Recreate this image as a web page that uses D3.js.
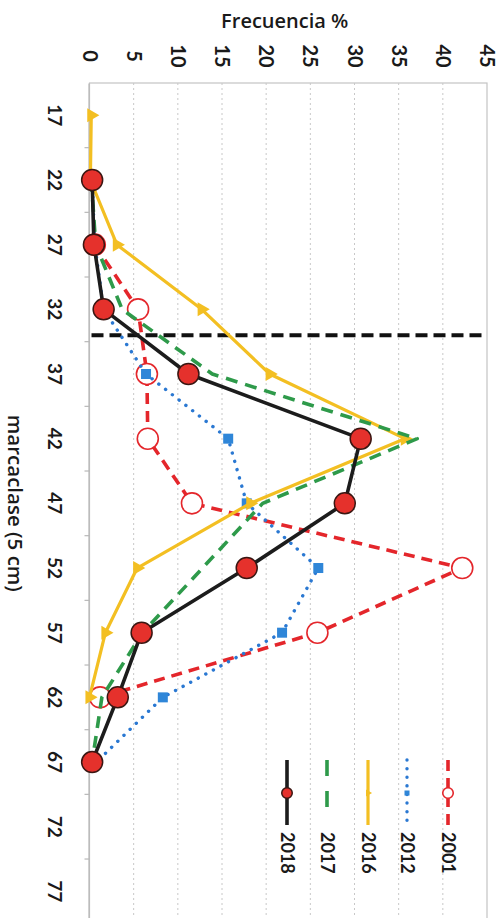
<!DOCTYPE html>
<html>
<head>
<meta charset="utf-8">
<script src="https://cdn.jsdelivr.net/npm/d3@7"></script>
<style>
  html, body { margin: 0; padding: 0; background: #fff; }
  svg { display: block; }
</style>
</head>
<body>
<svg id="chart" width="499" height="918"></svg>
<script>
// Marca de clase (cm) and frequency (%) per year
const categorias = [17, 22, 27, 32, 37, 42, 47, 52, 57, 62, 67, 72, 77];
const serie2001 = [null, null, 0.6, 5.5, 6.5, 6.6, 11.6, 42.2, 25.8, 1.2, null, null, null];
const serie2012 = [null, 0.3, 0.6, 1.6, 6.4, 15.7, 17.8, 25.9, 21.8, 8.3, 0.8, null, null];
const serie2016 = [0.2, 0.1, 3.1, 12.7, 20.4, 35.7, 18.2, 5.4, 1.8, 0, null, null, null];
const serie2017 = [null, 0.2, 0.7, 3.7, 13.9, 37.1, 19.6, 12.8, 6.0, 1.4, 0.3, null, null];
const serie2018 = [null, 0.3, 0.5, 1.6, 11.2, 30.7, 28.9, 17.8, 5.9, 3.2, 0.3, null, null];
const ticksFrecuencia = [0, 5, 10, 15, 20, 25, 30, 35, 40, 45];
const tallaMinima = 34; // reference length marked with the dashed line

const series = [
  { nombre: "2001", valores: serie2001, color: "#e4262b", ancho: 3.6, dash: "11,7", cap: "butt", marca: "circuloAbierto" },
  { nombre: "2012", valores: serie2012, color: "#2a78d2", ancho: 3.4, dash: "0.1,8.5", cap: "round", marca: "cuadrado" },
  { nombre: "2016", valores: serie2016, color: "#f3bf22", ancho: 3.2, dash: null, cap: "butt", marca: "triangulo" },
  { nombre: "2017", valores: serie2017, color: "#2e9a4a", ancho: 3.6, dash: "12,8", cap: "butt", marca: null },
  { nombre: "2018", valores: serie2018, color: "#1c1c1c", ancho: 3.6, dash: null, cap: "butt", marca: "circuloRelleno" }
];

const svg = d3.select("#chart");
// The whole chart is laid out in an ordinary frame and turned a quarter turn clockwise
const g = svg.append("g").attr("transform", "translate(499,0) rotate(90)");

const x = d3.scaleBand().domain(categorias).range([83, 923.7]).padding(0);
const y = d3.scaleLinear().domain([0, 45]).range([409.5, 12]);
const cx = c => x(c) + x.bandwidth() / 2;

const numFont = "Lato, 'Open Sans', sans-serif";
const titleFont = "'Open Sans', Lato, sans-serif";

// Plot frame
g.append("rect")
  .attr("x", x.range()[0]).attr("y", y(45))
  .attr("width", x.range()[1] - x.range()[0]).attr("height", y(0) - y(45))
  .attr("fill", "none").attr("stroke", "#c4c4c4").attr("stroke-width", 1.2);

// Gridlines
g.append("g").selectAll("line")
  .data(ticksFrecuencia.filter(t => t > 0 && t < 45))
  .join("line")
  .attr("x1", x.range()[0]).attr("x2", x.range()[1])
  .attr("y1", d => y(d)).attr("y2", d => y(d))
  .attr("stroke", "#c8c8c8").attr("stroke-width", 1)
  .attr("stroke-dasharray", "2,3");

// Frequency axis labels
const ejeY = g.append("g")
  .attr("transform", `translate(${x.range()[0]},0)`)
  .call(d3.axisLeft(y).tickValues(ticksFrecuencia).tickSize(0).tickPadding(0));
ejeY.select(".domain").remove();
ejeY.selectAll("text")
  .attr("x", -27).attr("text-anchor", "middle")
  .attr("font-family", numFont).attr("font-weight", 700)
  .attr("font-size", 20).attr("fill", "#1a1a1a");

// Category axis
const ejeX = g.append("g")
  .attr("transform", `translate(0,${y(0)})`)
  .call(d3.axisBottom(x).tickSize(0).tickPadding(0));
ejeX.select(".domain").attr("stroke", "#b8b8b8").attr("stroke-width", 1.2);
ejeX.selectAll("text")
  .attr("y", 28)
  .attr("font-family", numFont).attr("font-weight", 700)
  .attr("font-size", 19).attr("fill", "#1a1a1a");
// tick marks between categories
ejeX.append("g").selectAll("line")
  .data(categorias.slice(1))
  .join("line")
  .attr("x1", d => x(d)).attr("x2", d => x(d))
  .attr("y1", 0).attr("y2", 5)
  .attr("stroke", "#b8b8b8").attr("stroke-width", 1.2);

// Axis titles
g.append("text")
  .attr("transform", `translate(28,${y(22.1)}) rotate(-90)`)
  .attr("text-anchor", "middle")
  .attr("font-family", titleFont).attr("font-weight", 600)
  .attr("font-size", 20).attr("fill", "#1a1a1a")
  .text("Frecuencia %");

g.append("text")
  .attr("x", (x.range()[0] + x.range()[1]) / 2)
  .attr("y", 491)
  .attr("text-anchor", "middle")
  .attr("font-family", titleFont).attr("font-weight", 600)
  .attr("font-size", 20.5).attr("fill", "#1a1a1a")
  .text("marcaclase (5 cm)");

// Reference length line
const i0 = categorias.findIndex(c => c > tallaMinima) - 1;
const posTalla = cx(categorias[i0]) + (tallaMinima - categorias[i0]) / (categorias[i0 + 1] - categorias[i0]) * x.step();
g.append("line")
  .attr("x1", posTalla).attr("x2", posTalla)
  .attr("y1", y(0) - 2).attr("y2", y(45) + 3)
  .attr("stroke", "#111").attr("stroke-width", 4)
  .attr("stroke-dasharray", "12,6");

// Lines
const linea = d3.line()
  .defined(d => d.v != null)
  .x(d => cx(d.c))
  .y(d => y(d.v));

function dibujarMarca(sel, tipo, color, escala) {
  const s = escala || 1;
  if (tipo === "circuloAbierto") {
    sel.append("circle").attr("r", 10.5 * s).attr("fill", "#fff")
      .attr("stroke", color).attr("stroke-width", 1.6);
  } else if (tipo === "circuloRelleno") {
    sel.append("circle").attr("r", 10.5 * s).attr("fill", "#e5312c")
      .attr("stroke", "#3a1612").attr("stroke-width", 1.5);
  } else if (tipo === "cuadrado") {
    const a = 10 * s;
    sel.append("rect").attr("x", -a / 2).attr("y", -a / 2).attr("width", a).attr("height", a)
      .attr("fill", "#2f86d8");
  } else if (tipo === "triangulo") {
    sel.append("path").attr("d", d3.symbol(d3.symbolTriangle, 85 * s * s)())
      .attr("fill", color);
  }
}

series.forEach(s => {
  const puntos = categorias.map((c, i) => ({ c, v: s.valores[i] }));
  const gs = g.append("g");
  gs.append("path")
    .datum(puntos)
    .attr("d", linea)
    .attr("fill", "none")
    .attr("stroke", s.color)
    .attr("stroke-width", s.ancho)
    .attr("stroke-linejoin", "round")
    .attr("stroke-linecap", s.cap)
    .attr("stroke-dasharray", s.dash);
  if (s.marca) {
    gs.selectAll("g.marca")
      .data(puntos.filter(d => d.v != null))
      .join("g")
      .attr("class", "marca")
      .attr("transform", d => `translate(${cx(d.c)},${y(d.v)})`)
      .each(function () { dibujarMarca(d3.select(this), s.marca, s.color, 1); });
  }
});

// Legend
const leyendaY = { "2001": 51, "2012": 92, "2016": 131, "2017": 172, "2018": 212 };
const ley = g.append("g");
series.forEach(s => {
  const ly = leyendaY[s.nombre];
  const item = ley.append("g");
  const es2017 = s.nombre === "2017";
  item.append("line")
    .attr("x1", 760).attr("x2", es2017 ? 807 : 825).attr("y1", ly).attr("y2", ly)
    .attr("stroke", s.color).attr("stroke-width", s.ancho)
    .attr("stroke-linecap", s.cap)
    .attr("stroke-dasharray", es2017 ? "16,15" : s.dash);
  if (s.marca) {
    const m = item.append("g").attr("transform", `translate(793,${ly})`);
    dibujarMarca(m, s.marca, s.color, 0.5);
  }
  item.append("text")
    .attr("x", 832).attr("y", ly).attr("dy", "0.36em")
    .attr("font-family", numFont).attr("font-weight", 700)
    .attr("font-size", 18).attr("fill", "#1a1a1a")
    .text(s.nombre);
});
</script>
</body>
</html>
